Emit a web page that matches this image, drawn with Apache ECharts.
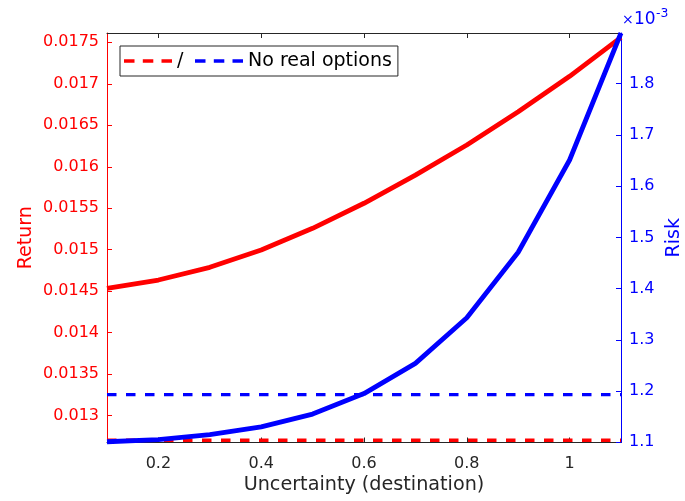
<!DOCTYPE html>
<html><head><meta charset="utf-8">
<script src="https://cdn.jsdelivr.net/npm/echarts@6/dist/echarts.min.js"></script>
<style>html,body{margin:0;padding:0;background:#fff;overflow:hidden}#c{width:685px;height:501px}</style>
</head><body><div id="c"></div>
<script>
// Uncertainty (destination) values on the x axis
const uncertainty = [0.1, 0.2, 0.3, 0.4, 0.5, 0.6, 0.7, 0.8, 0.9, 1.0, 1.1];
// Return with real options (solid red)
const returnRO = [0.014535, 0.014635, 0.014788, 0.014997, 0.015258, 0.015560, 0.015900, 0.016262, 0.016663, 0.017090, 0.017560];
// Return, no real options (dashed red)
const returnNoRO = [0.012704, 0.012704, 0.012704, 0.012704, 0.012704, 0.012704, 0.012704, 0.012704, 0.012704, 0.012704, 0.012704];
// Risk with real options (solid blue)
const riskRO = [0.0011010, 0.0011050, 0.0011150, 0.0011300, 0.0011550, 0.0011950, 0.0012540, 0.0013430, 0.0014710, 0.0016510, 0.0018990];
// Risk, no real options (dashed blue)
const riskNoRO = [0.0011930, 0.0011930, 0.0011930, 0.0011930, 0.0011930, 0.0011930, 0.0011930, 0.0011930, 0.0011930, 0.0011930, 0.0011930];
// Tick labels
const xTicks = [0.2, 0.4, 0.6, 0.8, 1.0];
const returnTicks = [0.013, 0.0135, 0.014, 0.0145, 0.015, 0.0155, 0.016, 0.0165, 0.017, 0.0175];
const riskTicks = [0.0011, 0.0012, 0.0013, 0.0014, 0.0015, 0.0016, 0.0017, 0.0018];

const pair = (ys) => uncertainty.map((x, i) => [x, ys[i]]);
const FONT = 'DejaVu Sans';
const AX = '#262626';
const RED = '#ff0000', BLUE = '#0000ff';
const DASH_ICON = 'path://M0,0h10.5v3.3h-10.5z M18.8,0h10.5v3.3h-10.5z M37.5,0h10.5v3.3h-10.5z';

const chart = echarts.init(document.getElementById('c'), null, {renderer: 'canvas'});
chart.setOption({
  animation: false,
  backgroundColor: '#fff',
  grid: {left: 107, right: 64, top: 33, bottom: 58.5, containLabel: false, outerBoundsMode: 'none'},
  legend: {
    left: 120, top: 46,
    data: [{name: '/', icon: DASH_ICON}, {name: 'No real options', icon: DASH_ICON}],
    itemWidth: 48, itemHeight: 3.3, itemGap: 11.6,
    padding: [4, 6, 4, 4],
    backgroundColor: '#fff',
    borderColor: AX, borderWidth: 1, borderRadius: 0,
    textStyle: {fontFamily: FONT, fontSize: 19, color: '#000', lineHeight: 22}
  },
  xAxis: [{
    type: 'value', min: 0.1, max: 1.1, position: 'bottom',
    name: 'Uncertainty (destination)', nameLocation: 'middle', nameGap: 33, nameMoveOverlap: false,
    nameTextStyle: {fontFamily: FONT, fontSize: 19.2, color: AX},
    axisLine: {lineStyle: {color: AX, width: 1}},
    axisTick: {inside: true, length: 5, customValues: xTicks, lineStyle: {color: AX}},
    axisLabel: {customValues: xTicks, margin: 13, fontFamily: FONT, fontSize: 16, color: AX,
      formatter: v => String(+v.toFixed(1))},
    splitLine: {show: false}
  }, {
    type: 'value', min: 0.1, max: 1.1, position: 'top',
    axisLine: {lineStyle: {color: AX, width: 1}},
    axisTick: {inside: true, length: 5, customValues: xTicks, lineStyle: {color: AX}},
    axisLabel: {show: false},
    splitLine: {show: false}
  }],
  yAxis: [{
    type: 'value', min: 0.012677, max: 0.017612, position: 'left',
    name: 'Return', nameLocation: 'middle', nameGap: 71, nameRotate: 90, nameMoveOverlap: false,
    nameTextStyle: {fontFamily: FONT, fontSize: 19, color: RED},
    axisLine: {show: true, lineStyle: {color: RED, width: 1}},
    axisTick: {show: true, inside: true, length: 5, customValues: returnTicks, lineStyle: {color: RED}},
    axisLabel: {customValues: returnTicks, margin: 8, fontFamily: FONT, fontSize: 16, color: RED,
      formatter: v => String(+v.toFixed(4))},
    splitLine: {show: false}
  }, {
    type: 'value', min: 0.0010995, max: 0.001899, position: 'right',
    name: 'Risk', nameLocation: 'middle', nameGap: 44, nameRotate: 90, nameMoveOverlap: false,
    nameTextStyle: {fontFamily: FONT, fontSize: 19, color: BLUE},
    axisLine: {show: true, lineStyle: {color: BLUE, width: 1}},
    axisTick: {show: true, inside: true, length: 5, customValues: riskTicks, lineStyle: {color: BLUE}},
    axisLabel: {customValues: riskTicks, margin: 8, fontFamily: FONT, fontSize: 16, color: BLUE,
      formatter: v => (v * 1000).toFixed(1)},
    splitLine: {show: false}
  }],
  graphic: [
    {type: 'text', left: 622, top: 13.5, style: {text: '×', font: '14px "DejaVu Sans"', fill: BLUE}},
    {type: 'text', left: 634, top: 11.5, style: {text: '10', font: '17px "DejaVu Sans"', fill: BLUE}},
    {type: 'text', left: 656, top: 7.4, style: {text: '-3', font: '12.4px "DejaVu Sans"', fill: BLUE}}
  ],
  series: [
    {name: 'Return RO', type: 'line', xAxisIndex: 0, yAxisIndex: 0, data: pair(returnRO),
      showSymbol: false, symbol: 'none', lineStyle: {color: RED, width: 4.8}, itemStyle: {color: RED}, z: 2},
    {name: '/', type: 'line', xAxisIndex: 0, yAxisIndex: 0, data: pair(returnNoRO),
      showSymbol: false, symbol: 'none', lineStyle: {color: RED, width: 3.3, type: [9.5, 9.5]}, itemStyle: {color: RED}, z: 2},
    {name: 'No real options', type: 'line', xAxisIndex: 0, yAxisIndex: 1, data: pair(riskNoRO),
      showSymbol: false, symbol: 'none', lineStyle: {color: BLUE, width: 3.3, type: [9.5, 9.5]}, itemStyle: {color: BLUE}, z: 3},
    {name: 'Risk RO', type: 'line', xAxisIndex: 0, yAxisIndex: 1, data: pair(riskRO),
      showSymbol: false, symbol: 'none', lineStyle: {color: BLUE, width: 4.8}, itemStyle: {color: BLUE}, z: 3}
  ]
});
</script>
</body></html>
